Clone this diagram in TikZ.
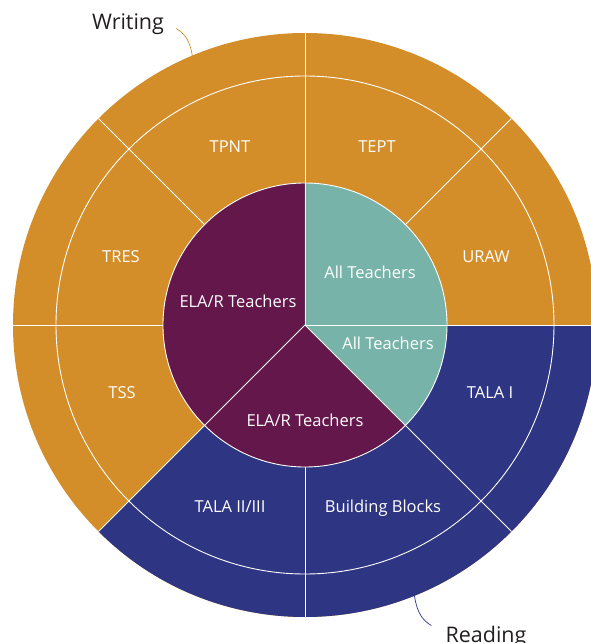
\documentclass[tikz,border=0pt]{standalone}
\usepackage{fontspec}
\setmainfont{Open Sans}
\definecolor{writingorange}{RGB}{211,142,42}
\definecolor{readingblue}{RGB}{46,54,132}
\definecolor{elaplum}{RGB}{99,23,75}
\definecolor{allteal}{RGB}{120,179,169}
\definecolor{captiongray}{RGB}{35,31,32}
\newcommand{\rin}{142}
\newcommand{\rmid}{249}
\newcommand{\rout}{292}
\tikzset{
	divider/.style={draw=white,line width=0.9pt},
	seglabel/.style={text=white,font=\fontsize{16.5}{19}\selectfont,inner sep=0pt,text height=12pt,text depth=0pt},
	caption/.style={text=captiongray,font=\fontsize{21.5}{24}\selectfont,inner sep=0pt,text height=15.5pt,text depth=0pt},
	leader/.style={line width=0.7pt}
}

\begin{document}
\begin{tikzpicture}[x=1pt,y=1pt]
		\useasboundingbox (-305,-318) rectangle (286,325);
		\clip (-305,-318) rectangle (286,325);
		\coordinate (c) at (0,0);
		\fill[writingorange] (c) circle (\rout);
		\fill[readingblue] (c) -- (225:\rout) arc[start angle=225,end angle=360,radius=\rout] -- cycle;
		\fill[elaplum] (c) circle (\rin);
		\fill[allteal] (c) -- (-45:\rin) arc[start angle=-45,end angle=90,radius=\rin] -- cycle;
		\draw[divider] (c) circle (\rmid) (c) circle (\rin);
		\foreach \a in {0,90,225,315}
			\draw[divider] (c) -- (\a:\rout);
		\foreach \a in {45,135,180,270}
			\draw[divider] (\a:\rin) -- (\a:\rout);
		\foreach \p/\t [count=\i] in {{(181,69)}/URAW,{(72,178)}/TEPT,{(-75,178)}/TPNT,{(-184,69)}/TRES,{(-183,-67)}/TSS,{(-75,-181)}/{TALA II/III},{(78,-181)}/Building Blocks,{(185,-67)}/TALA I}
			\node[seglabel] (ring\i) at \p {\t};
		\node[seglabel] (elaupper) at (-67,24) {ELA/R Teachers};
		\node[seglabel] (allupper) at (65,53) {All Teachers};
		\node[seglabel] (alllower) at (83,-18) {All Teachers};
		\node[seglabel] (elalower) at (0,-95) {ELA/R Teachers};
		\node[caption] (writing) at (-177,303.5) {Writing};
		\node[caption] (reading) at (181,-309.5) {Reading};
		\coordinate (wend) at (112.7:\rout);
		\coordinate (rend) at (-68:\rout);
		\draw[leader,writingorange] ([shift={(12,-7)}]writing.east) to[out=-30,in=100] (wend);
		\draw[leader,readingblue] (rend) to[out=-80,in=150] ([shift={(-14,9)}]reading.west);
	\end{tikzpicture}
\end{document}
